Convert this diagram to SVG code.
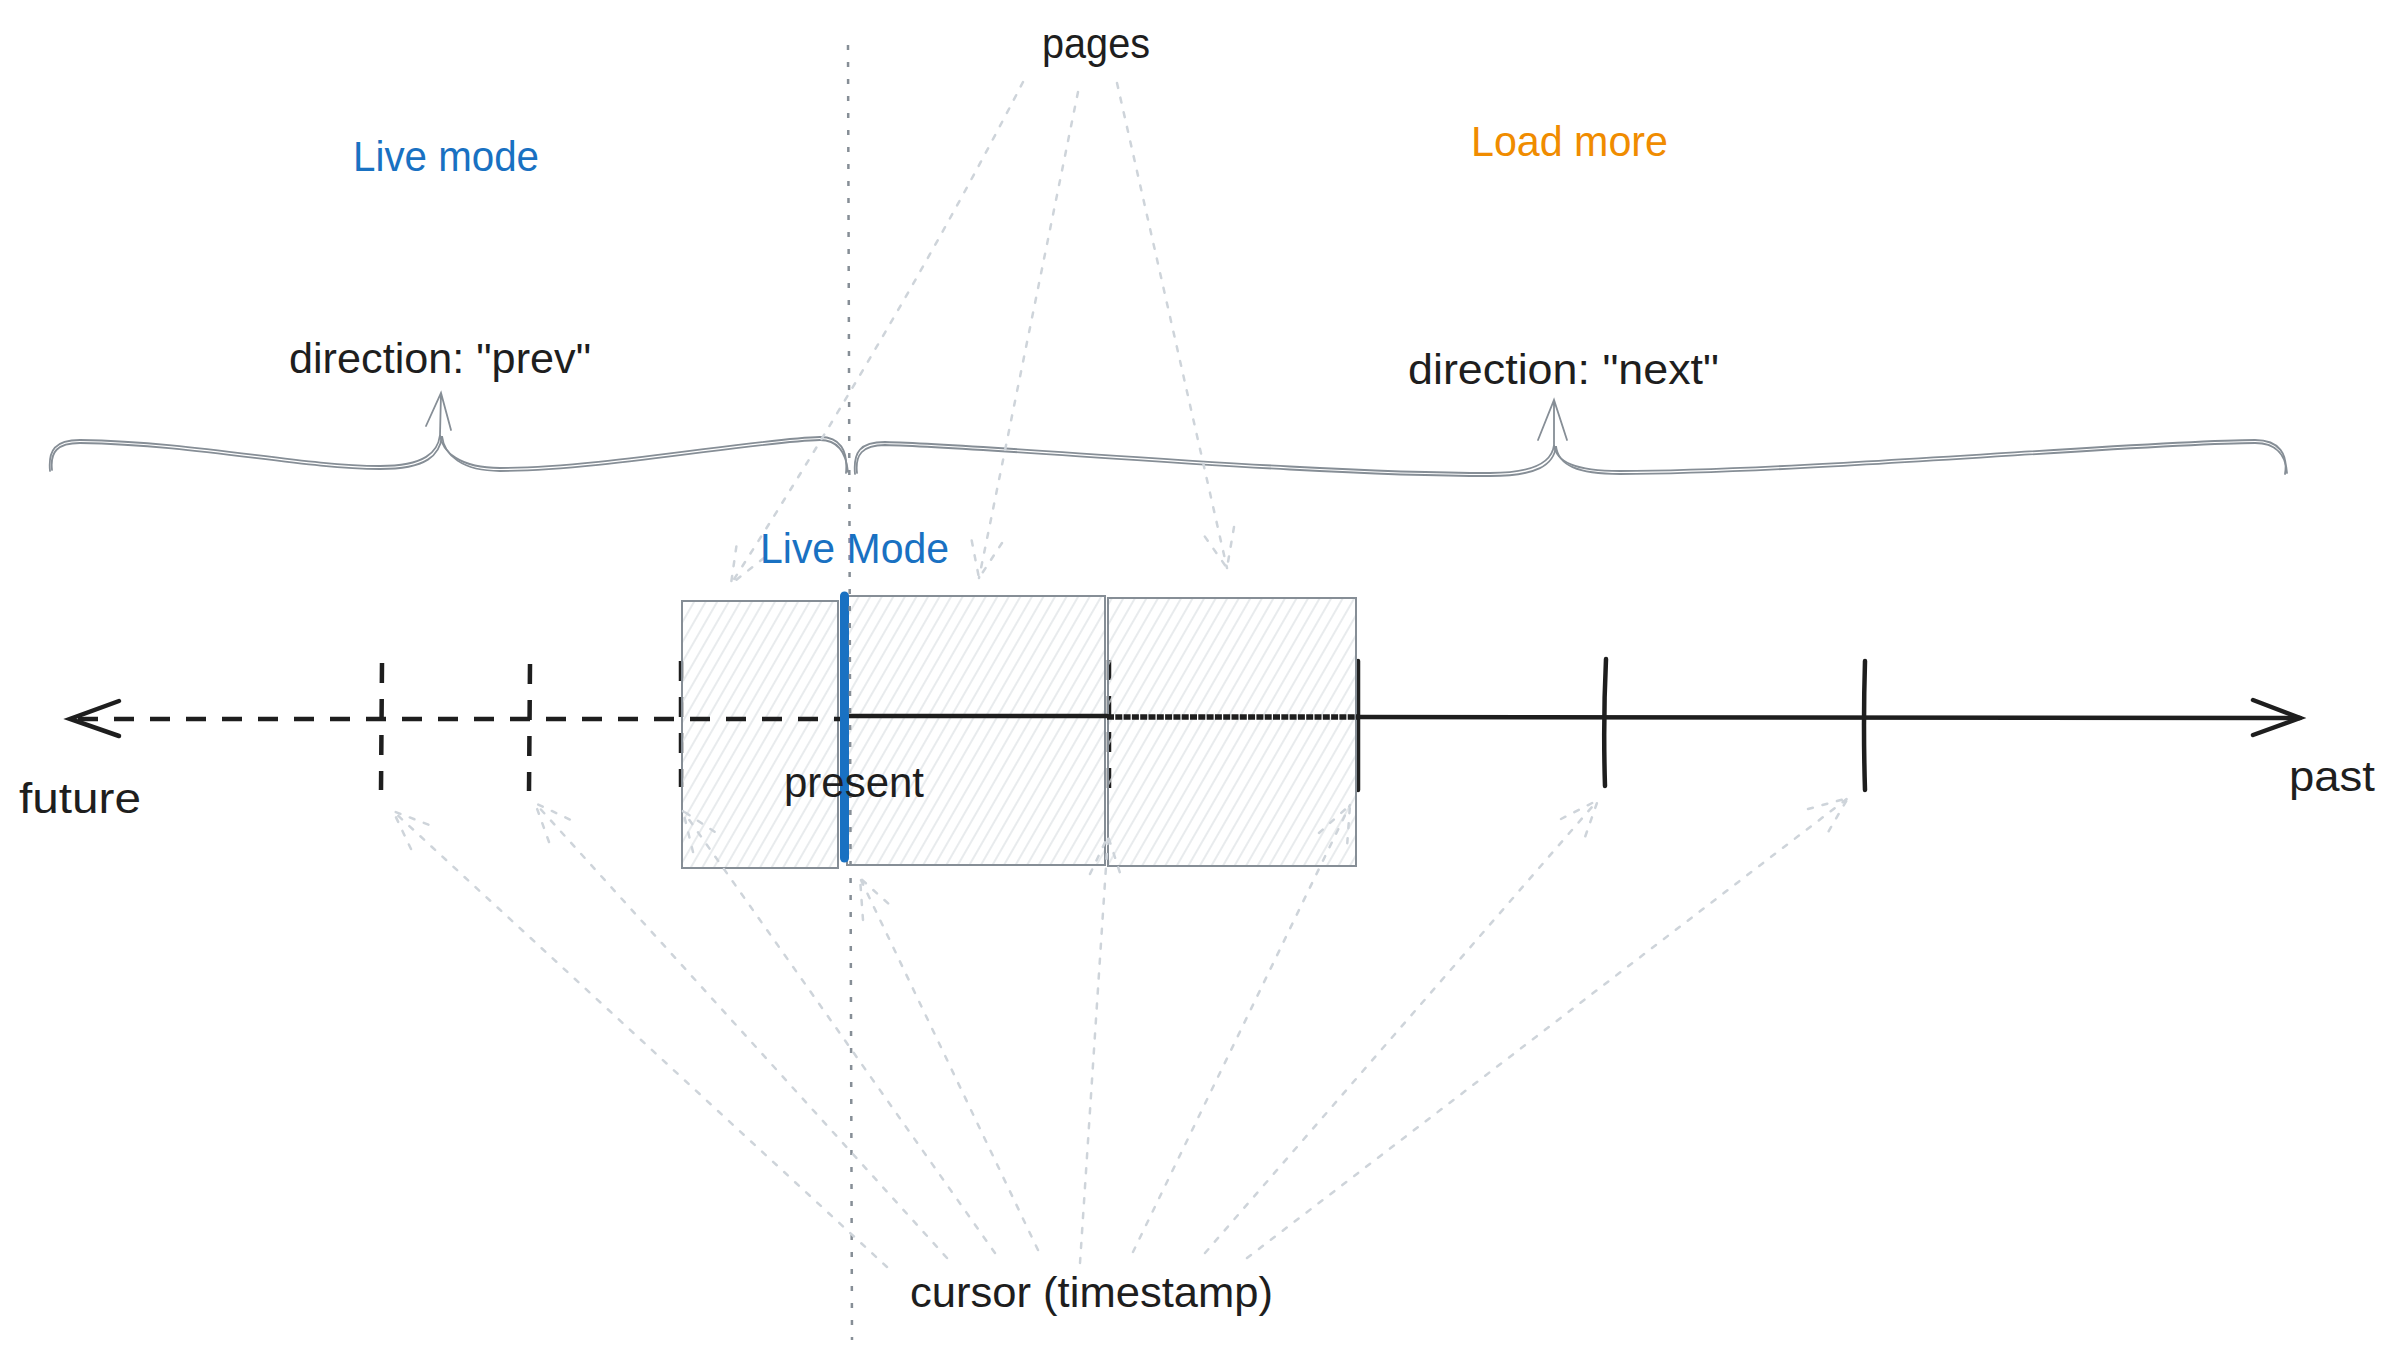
<svg xmlns="http://www.w3.org/2000/svg" width="2398" height="1362" viewBox="0 0 2398 1362">
<style>
  .t { font-family: "Liberation Sans", Arial, sans-serif; font-size: 42px; fill: #1e1e1e; }
  .blue { fill: #1971c2; }
  .orange { fill: #f08c00; }
  .box { fill: url(#hatch); stroke: #868e96; stroke-width: 2; }
  .ink { stroke: #1e1e1e; stroke-width: 4.5; stroke-linecap: round; fill: none; }
  .dashink { stroke: #1e1e1e; stroke-width: 4.5; stroke-dasharray: 20 16; fill: none; }
  .brace { stroke: #868e96; stroke-width: 1.8; fill: none; stroke-linecap: round; }
  .conn { stroke: #ced4da; stroke-width: 2.5; stroke-dasharray: 5 10; stroke-linecap: round; fill: none; }
  .guide { stroke: #868e96; stroke-width: 2.5; stroke-dasharray: 5 12; fill: none; }
</style>
<defs>
  <pattern id="hatch" width="10" height="10" patternUnits="userSpaceOnUse" patternTransform="rotate(30)">
    <line x1="2" y1="0" x2="2" y2="10" stroke="#dee2e6" stroke-width="1.4"/>
  </pattern>
</defs>
<rect width="2398" height="1362" fill="#ffffff"/>

<g id="ticks">
  <line class="dashink" x1="382" y1="663" x2="381" y2="790"/>
  <line class="dashink" x1="530" y1="664" x2="529" y2="791"/>
  <line class="dashink" x1="681" y1="661" x2="681" y2="787"/>
  <line class="dashink" x1="1109" y1="660" x2="1109" y2="790" stroke-dasharray="12 3"/>
  <line class="ink" x1="1358" y1="661" x2="1358" y2="790"/>
  <path class="ink" d="M1606 659 Q1603 722 1605 786"/>
  <path class="ink" d="M1865 661 Q1863 725 1865 790"/>
</g>

<g id="page-1"><rect class="box" x="682" y="601" width="156" height="267"/></g>
<g id="page-2"><rect class="box" x="847" y="596" width="258" height="269"/></g>
<g id="page-3"><rect class="box" x="1108" y="598" width="248" height="268"/></g>

<g id="timeline">
  <line class="dashink" x1="78" y1="719" x2="843" y2="719"/>
  <path class="ink" d="M119 701 L70 719 L119 736"/>
  <line class="ink" x1="843" y1="716" x2="1107" y2="716" stroke-width="5.5"/>
  <line x1="1107" y1="717" x2="1358" y2="717" stroke="#1e1e1e" stroke-width="5.5" stroke-dasharray="7 1.3"/>
  <path class="ink" d="M1358 717 L2300 718" stroke-width="5.5"/>
  <path class="ink" d="M2253 700 L2300 718 L2253 735"/>
</g>

<g id="present-marker">
  <line x1="844.5" y1="596" x2="844.5" y2="858" stroke="#1971c2" stroke-width="9" stroke-linecap="round"/>
</g>

<g id="divider">
  <line class="guide" x1="848" y1="45" x2="852" y2="1340"/>
</g>

<g id="brace-prev">
  <path class="brace" d="M50 471 C48 450 55 440 80 440 C200 442 300 466 380 466 C425 466 438 452 440 435 C442 452 460 468 500 468 C600 468 760 438 820 437 C840 437 848 450 846 473"/>
  <path class="brace" d="M52 470 C50 452 57 443 80 443 C200 445 300 469 380 469 C427 469 440 455 442 436 C444 455 462 471 500 471 C600 471 760 441 820 440 C838 440 846 452 848 472"/>
  <path class="brace" d="M440 435 L441 393 M426 426 L441 393 L451 430"/>
</g>

<g id="brace-next">
  <path class="brace" d="M855 474 C853 452 860 442 885 442 C1000 445 1300 473 1490 473 C1535 473 1552 462 1554 445 C1556 462 1575 471 1620 471 C1800 471 2150 440 2255 440 C2280 440 2288 455 2285 474"/>
  <path class="brace" d="M857 473 C855 455 862 445 885 445 C1000 448 1300 476 1490 476 C1537 476 1554 465 1556 446 C1558 465 1577 474 1620 474 C1800 474 2150 443 2255 443 C2278 443 2286 457 2287 473"/>
  <path class="brace" d="M1554 445 L1554 400 M1538 440 L1554 400 L1567 440"/>
</g>

<g id="connectors">
  <path class="conn" d="M1023 82 Q900 320 731 584 M764 558 L731 584 L737 542"/>
  <path class="conn" d="M1078 92 L979 578 M1002 543 L979 578 L971 537"/>
  <path class="conn" d="M1117 83 L1227 568 M1234 527 L1227 568 L1203 534"/>
  <path class="conn" d="M887 1267 L393 811 M411 849 L393 811 L432 826"/>
  <path class="conn" d="M947 1258 L535 803 M549 842 L535 803 L573 821"/>
  <path class="conn" d="M995 1253 L683 811 M693 852 L683 811 L718 834"/>
  <path class="conn" d="M1038 1250 L860 878 M863 920 L860 878 L891 906"/>
  <path class="conn" d="M1080 1263 L1108 836 M1090 874 L1108 836 L1121 876"/>
  <path class="conn" d="M1133 1252 L1350 805 M1319 833 L1350 805 L1347 847"/>
  <path class="conn" d="M1205 1253 L1598 800 M1561 819 L1598 800 L1584 840"/>
  <path class="conn" d="M1247 1258 L1848 798 M1808 809 L1848 798 L1827 834"/>
</g>

<g id="label-pages"><text class="t" x="1042" y="58" textLength="108" lengthAdjust="spacingAndGlyphs">pages</text></g>
<g id="label-live-mode"><text class="t blue" x="353" y="171" textLength="186" lengthAdjust="spacingAndGlyphs">Live mode</text></g>
<g id="label-load-more"><text class="t orange" x="1471" y="156" textLength="197" lengthAdjust="spacingAndGlyphs">Load more</text></g>
<g id="label-prev"><text class="t" x="289" y="373" textLength="302" lengthAdjust="spacingAndGlyphs">direction: "prev"</text></g>
<g id="label-next"><text class="t" x="1408" y="384" textLength="311" lengthAdjust="spacingAndGlyphs">direction: "next"</text></g>
<g id="label-live-mode-2"><text class="t blue" x="760" y="563" textLength="189" lengthAdjust="spacingAndGlyphs">Live Mode</text></g>
<g id="label-present"><text class="t" x="784" y="797" textLength="140" lengthAdjust="spacingAndGlyphs">present</text></g>
<g id="label-future"><text class="t" x="19" y="813" textLength="122" lengthAdjust="spacingAndGlyphs">future</text></g>
<g id="label-past"><text class="t" x="2289" y="791" textLength="86" lengthAdjust="spacingAndGlyphs">past</text></g>
<g id="label-cursor"><text class="t" x="910" y="1307" textLength="363" lengthAdjust="spacingAndGlyphs">cursor (timestamp)</text></g>
</svg>
